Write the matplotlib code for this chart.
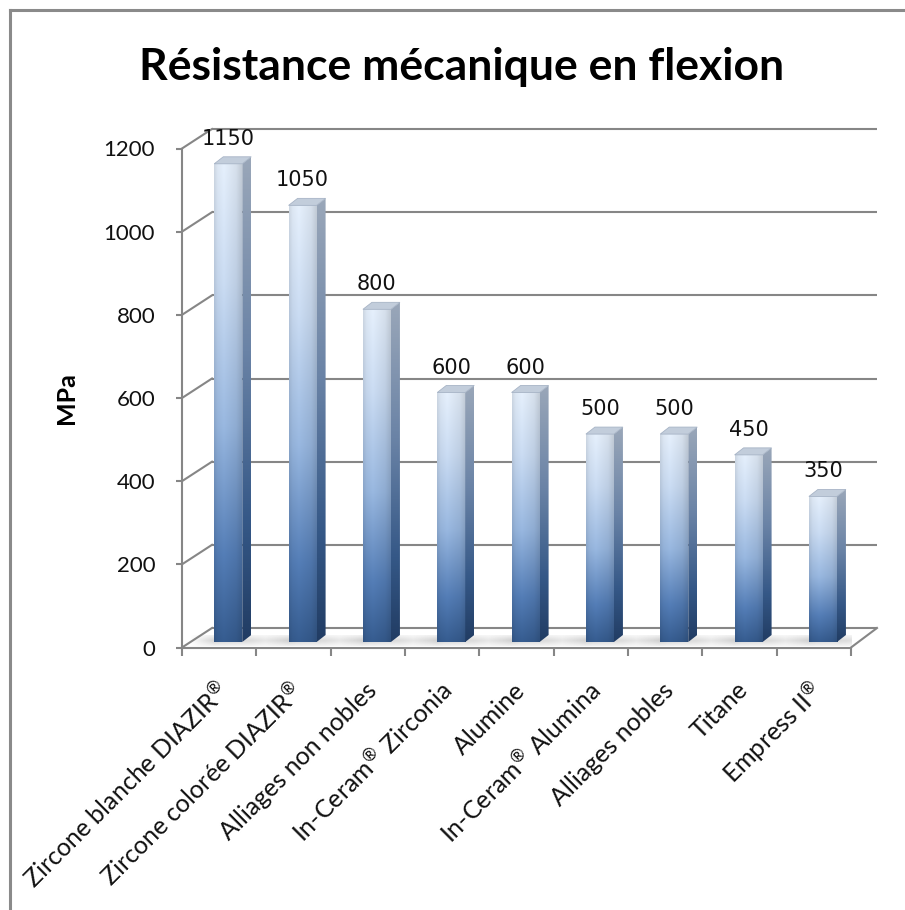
import numpy as np
import matplotlib
matplotlib.use("Agg")
import matplotlib.pyplot as plt
from matplotlib.colors import LinearSegmentedColormap
from matplotlib.patches import Polygon
from matplotlib.lines import Line2D
from matplotlib.transforms import ScaledTranslation

plt.rcParams["mathtext.fontset"] = "custom"
plt.rcParams["mathtext.rm"] = "Lato"
plt.rcParams["mathtext.default"] = "regular"

# ---------------- data ----------------
categories = ["Zircone blanche DIAZIR$^{®}$", "Zircone colorée DIAZIR$^{®}$", "Alliages non nobles",
              "In-Ceram$^{®}$ Zirconia", "Alumine", "In-Ceram$^{®}$ Alumina", "Alliages nobles",
              "Titane", "Empress II$^{®}$"]
values = [1150, 1050, 800, 600, 600, 500, 500, 450, 350]
yticks = [0, 200, 400, 600, 800, 1000, 1200]
title = "Résistance mécanique en flexion"
ylabel = "MPa"

# ---------------- layout ----------------
W, H = 905, 910
fig = plt.figure(figsize=(W / 100, H / 100), dpi=100)
fig.patch.set_facecolor("white")
X0, X1, Y0, Y1 = 182, 851, 647.5, 148.5   # pixel coords of the front plane
ax = fig.add_axes([X0 / W, (H - Y0) / H, (X1 - X0) / W, (Y0 - Y1) / H])
n = len(categories)
ymax = yticks[-1]
kx = n / (X1 - X0)          # data units per pixel (x)
ky = ymax / (Y0 - Y1)       # data units per pixel (y)

GRAY = "#868686"
LW = 1.5

# back wall offsets
bxl, bxr, bdy = 30 * kx, 26 * kx, 19.5 * ky
for v in yticks:
    ax.plot([bxl, n + bxr], [v + bdy, v + bdy], color=GRAY, lw=LW, zorder=1,
            clip_on=False, solid_capstyle="butt")
    ax.plot([0, bxl], [v, v + bdy], color=GRAY, lw=LW, zorder=1, clip_on=False)
ax.plot([n, n + bxr], [0, bdy], color=GRAY, lw=LW, zorder=1, clip_on=False)

# bar geometry
s = 5.5 * ky                # bar depth shift (up)
off = 0.434                 # front-face left offset within category
wf = 28 * kx                # front face width
dxs, dys = 9 * kx, 7 * ky   # bar depth

front_cmap = LinearSegmentedColormap.from_list(
    "front", [(0.0, "#34598b"), (0.18, "#5179b0"), (0.45, "#93b1d8"),
              (0.75, "#c3d4ea"), (1.0, "#dde7f3")])
side_cmap = LinearSegmentedColormap.from_list(
    "side", [(0.0, "#213c63"), (0.25, "#355887"), (0.6, "#6a83a6"), (1.0, "#9aa7b9")])

grad = np.linspace(0, 1, 256)
hfac = np.interp(np.linspace(0, 1, 40), [0, 0.12, 0.35, 0.8, 1.0], [0.93, 1.0, 1.04, 0.97, 0.88])

def face_img(cmap, hf):
    rgb = cmap(grad)[:, :3]
    img = rgb[:, None, :] * hf[None, :, None]
    return np.clip(img, 0, 1)

front_img = face_img(front_cmap, hfac)
side_img = face_img(side_cmap, np.ones(8))

for i, v in enumerate(values):
    xl = i + off
    xr = xl + wf
    # floor shadow (soft)
    sh_x0, sh_x1 = xl - 24 * kx, xr + dxs + 45 * kx
    xs = np.linspace(sh_x0, sh_x1, 200)
    ys = np.linspace(0, 1, 20)
    a = np.interp(xs, [sh_x0, xl, xr + dxs, sh_x1], [0.0, 0.35, 0.28, 0.0])
    av = np.interp(ys, [0, 0.5, 1], [0.3, 1.0, 0.3])
    sh = np.zeros((20, 200, 4))
    sh[..., :3] = 0.5
    sh[..., 3] = av[:, None] * a[None, :]
    ax.imshow(sh, extent=[sh_x0, sh_x1, 1.0 * ky, 12 * ky], origin="lower",
              aspect="auto", zorder=2, interpolation="bilinear")
    # front face
    ax.imshow(front_img, extent=[xl, xr, s, v + s], origin="lower", aspect="auto",
              zorder=4, interpolation="bilinear")
    # side face
    side_poly = Polygon([(xr, s), (xr + dxs, s + dys), (xr + dxs, v + s + dys), (xr, v + s)],
                        closed=True, facecolor="none", edgecolor="none")
    ax.add_patch(side_poly)
    im = ax.imshow(side_img, extent=[xr, xr + dxs, s, v + s + dys], origin="lower",
                   aspect="auto", zorder=4, interpolation="bilinear")
    im.set_clip_path(side_poly)
    # top face
    ax.add_patch(Polygon([(xl, v + s), (xr, v + s), (xr + dxs, v + s + dys), (xl + dxs, v + s + dys)],
                         closed=True, facecolor="#c2cddb", edgecolor="#a7b4c6", lw=0.6, zorder=5))
    # value label
    ax.text(i + 0.62, v + 24.5 * ky, f"{v}", ha="center", va="baseline",
            fontsize=15, family="DejaVu Sans", color="#111111", zorder=6)

ax.set_xlim(0, n)
ax.set_ylim(0, ymax)

# axes styling
for sp in ["top", "right"]:
    ax.spines[sp].set_visible(False)
for sp in ["left", "bottom"]:
    ax.spines[sp].set_color(GRAY)
    ax.spines[sp].set_linewidth(LW)
    ax.spines[sp].set_zorder(1)
ax.set_facecolor("none")

ax.set_yticks(yticks)
ax.set_yticklabels([str(t) for t in yticks], fontsize=16, family="Lato", color="#111111")
ax.tick_params(axis="y", length=4.3, width=LW, color=GRAY, pad=15)

centers = np.arange(n) + 0.5
ax.set_xticks(centers)
ax.set_xticks(np.arange(n + 1), minor=True)
ax.set_xticklabels(categories, fontsize=18, family="Lato", color="#111111",
                   rotation=45, rotation_mode="anchor", ha="right", va="center")
ax.tick_params(axis="x", which="major", length=0, pad=28)
ax.tick_params(axis="x", which="minor", length=5.8, width=LW, color=GRAY)
shift = ScaledTranslation(0.05, 0, fig.dpi_scale_trans)
for lab in ax.get_xticklabels():
    lab.set_transform(lab.get_transform() + shift)

# title and y label
fig.text(462 / W, 1 - 80 / H, title, ha="center", va="baseline", fontsize=32,
         family="Lato", fontweight="bold", color="#000000")
fig.text(67 / W, 1 - 398 / H, ylabel, ha="center", va="center", rotation=90,
         fontsize=18, family="Lato", fontweight="bold", color="#000000")

# outer frame (left and top edges visible)
fig.add_artist(Line2D([10 / W, 10 / W], [0, 1 - 10 / H], transform=fig.transFigure,
                      color="#8a8a8a", lw=2.2))
fig.add_artist(Line2D([10 / W, 1], [1 - 10 / H, 1 - 10 / H], transform=fig.transFigure,
                      color="#8a8a8a", lw=2.2))

fig.savefig("out.png", dpi=100, facecolor="white")
